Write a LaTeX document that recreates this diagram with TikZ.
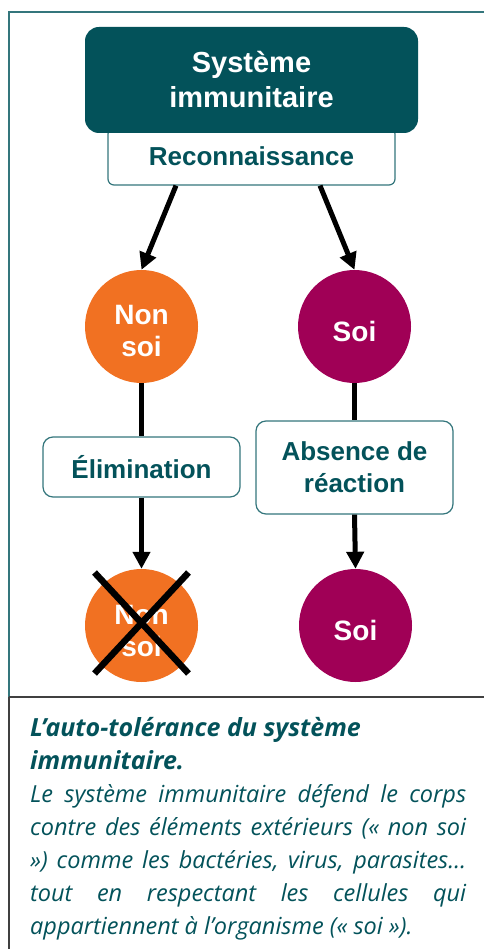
\documentclass[tikz,border=0pt]{standalone}
\usepackage{fontspec}
\setsansfont{Liberation Sans}
\newfontfamily\legende{Open Sans}
\usetikzlibrary{arrows.meta}

\definecolor{sarcelle}{RGB}{3,82,90}
\definecolor{cadre}{RGB}{52,118,124}
\definecolor{orangeNS}{RGB}{241,113,34}
\definecolor{prune}{RGB}{160,0,86}

\tikzset{
  boite/.style={draw=cadre,line width=1.2pt,rounded corners=10pt,fill=white,
    text=sarcelle,font=\sffamily\bfseries\fontsize{26}{32}\selectfont,align=center},
  cellule/.style={circle,minimum size=113pt,inner sep=0pt},
  celltexte/.style={text=white,font=\sffamily\bfseries\fontsize{28}{32}\selectfont,
    align=center,yshift=-5pt},
  fleche/.style={line width=5pt,-{Triangle[width=17pt,length=17pt]}},
  trait/.style={line width=5.5pt},
  croix/.style={line width=6.5pt}
}

\begin{document}
\begin{tikzpicture}[x=1pt,y=-1pt]
    \useasboundingbox (0,0) rectangle (484,949);

    % cadre
    \draw[cadre,line width=1.3pt] (484,12) -- (9,12) -- (9,697);
    \draw[black!75,line width=1.5pt] (9,697) -- (484,697);
    \draw[black!75,line width=1.3pt] (9,697) -- (9,949);

    % systeme immunitaire
    \node[boite,rounded corners=6pt,minimum width=287pt,minimum height=57pt] (recon) at (251.5,156.5) {Reconnaissance};
    \node[fill=sarcelle,rounded corners=14pt,minimum width=333pt,minimum height=106pt,
      text=white,font=\sffamily\bfseries\fontsize{29}{35}\selectfont,align=center] (systeme) at (251.5,80) {Système\\immunitaire};

    % premiere rangee
    \node[cellule,fill=orangeNS,label={[celltexte]center:Non\\soi}] (nonsoi) at (141.5,326.5) {};
    \node[cellule,fill=prune,label={[celltexte]center:Soi}] (soi) at (354.5,326.5) {};

    \draw[fleche] ([xshift=-75.5pt]recon.south) -- (nonsoi.north);
    \draw[fleche] ([xshift=68.5pt]recon.south) -- (soi.north);

    % reponses
    \node[boite,minimum width=197pt,minimum height=60pt] (elim) at (141.5,467) {Élimination};
    \node[boite,minimum width=197pt,minimum height=93pt] (absence) at (354.5,467.5) {Absence de\\réaction};

    \draw[trait] (nonsoi.south) -- (elim.north);
    \draw[trait] (soi.south) -- (absence.north);

    % deuxieme rangee
    \node[cellule,fill=orangeNS,label={[celltexte]center:Non\\soi}] (nonsoiB) at (141.5,625.5) {};
    \node[cellule,fill=prune,label={[celltexte]center:Soi}] (soiB) at (355.5,625.5) {};

    \draw[fleche] (elim.south) -- (nonsoiB.north);
    \draw[fleche] (absence.south) -- (soiB.north);

    % non soi elimine
    \draw[croix] ([shift={(-47pt,-48pt)}]nonsoiB.center) -- ([shift={(47pt,53pt)}]nonsoiB.center);
    \draw[croix] ([shift={(47pt,-48pt)}]nonsoiB.center) -- ([shift={(-47pt,53pt)}]nonsoiB.center);

    % legende
    \node[anchor=north west,inner sep=0pt,text width=436pt,align=justify,text=sarcelle,
      font=\legende\fontsize{23.5}{33}\selectfont] (texte) at (30,717) {%
      \hyphenpenalty=10000
      {\bfseries\itshape\fontsize{25}{33}\selectfont L’auto-tolérance du système\\immunitaire.}\\
      \itshape Le système immunitaire défend le corps\linebreak
      contre des éléments extérieurs (« non soi\linebreak
      ») comme les bactéries, virus, parasites…\linebreak
      tout en respectant les cellules qui\linebreak
      appartiennent à l’organisme (« soi »).};
  \end{tikzpicture}
\end{document}
